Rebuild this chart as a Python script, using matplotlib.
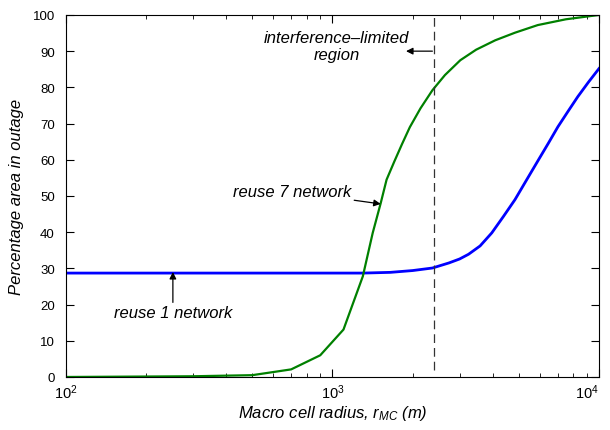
import numpy as np
import matplotlib
matplotlib.use("Agg")
import matplotlib.pyplot as plt

# Data
r_reuse7 = [100, 300, 500, 700, 900, 1100, 1300, 1416, 1517, 1596, 1706, 1823,
            1951, 2139, 2371, 2643, 3018, 3459, 4080, 4840, 5890, 7510, 10000]
out_reuse7 = [0.0, 0.2, 0.5, 2.1, 6.0, 13.1, 27.8, 39.8, 48.0, 54.5, 59.5, 64.3,
              69.0, 74.2, 79.2, 83.4, 87.5, 90.4, 93.0, 95.1, 97.2, 98.8, 100.0]

r_reuse1 = [100, 300, 600, 1000, 1300, 1650, 2000, 2371, 2735, 3000, 3240,
            3580, 3960, 4385, 4840, 5356, 5930, 6460, 7010, 7640, 8320, 9120, 10000]
out_reuse1 = [28.7, 28.7, 28.7, 28.7, 28.7, 28.9, 29.4, 30.1, 31.5, 32.6, 33.9,
              36.2, 39.8, 44.4, 49.0, 54.5, 60.0, 64.6, 69.1, 73.3, 77.4, 81.4, 85.2]

boundary_r = 2400

plt.rcParams['font.family'] = ['Liberation Sans', 'DejaVu Sans']
plt.rcParams['mathtext.fontset'] = 'custom'
plt.rcParams['mathtext.rm'] = 'Liberation Sans'
plt.rcParams['mathtext.it'] = 'Liberation Sans:italic'

fig = plt.figure(figsize=(6.1, 4.31), dpi=100)
ax = fig.add_axes([0.108, 0.123, 0.874, 0.840])

ax.plot(r_reuse1, out_reuse1, color='#0000ff', lw=2.0)
ax.plot(r_reuse7, out_reuse7, color='#008000', lw=1.6)
ax.plot([boundary_r, boundary_r], [2, 100], color='#333333', lw=0.9, dashes=(7, 4))

ax.set_xscale('log')
ax.set_xlim(100, 10000)
ax.set_ylim(0, 100)
ax.set_yticks(np.arange(0, 101, 10))
ax.tick_params(which='both', direction='in', top=True, right=True)
ax.tick_params(axis='y', labelsize=9.5, pad=8)
ax.tick_params(axis='x', labelsize=10.5, pad=4)
ax.tick_params(which='major', length=6)
ax.tick_params(which='minor', length=3)
for lbl in ax.get_xticklabels():
    if lbl.get_text().endswith('{4}}$'):
        lbl.set_horizontalalignment('right')

ax.set_xlabel(r'Macro cell radius, $\mathit{r}_{\mathit{MC}}$ (m)', style='italic', fontsize=12, labelpad=1)
ax.set_ylabel('Percentage area in outage', style='italic', fontsize=12, labelpad=6)

# annotations
arrow = dict(arrowstyle='-|>', color='black', lw=0.9, mutation_scale=10, shrinkA=0, shrinkB=0)
ax.text(1035, 91.4, 'interference\u2013limited\nregion', style='italic', fontsize=12,
        ha='center', va='center', linespacing=1.15)
ax.annotate('', xy=(1888, 90.0), xytext=(2371, 90.0), arrowprops=arrow)
ax.annotate('reuse 7 network', xy=(1517, 47.8), xytext=(1178, 51.2),
            style='italic', fontsize=12, ha='right', va='center', arrowprops=arrow)
ax.text(252, 17.7, 'reuse 1 network', style='italic', fontsize=12, ha='center', va='center')
ax.annotate('', xy=(252, 29.0), xytext=(252, 20.6), arrowprops=arrow)

fig.savefig('out.png', dpi=100)
